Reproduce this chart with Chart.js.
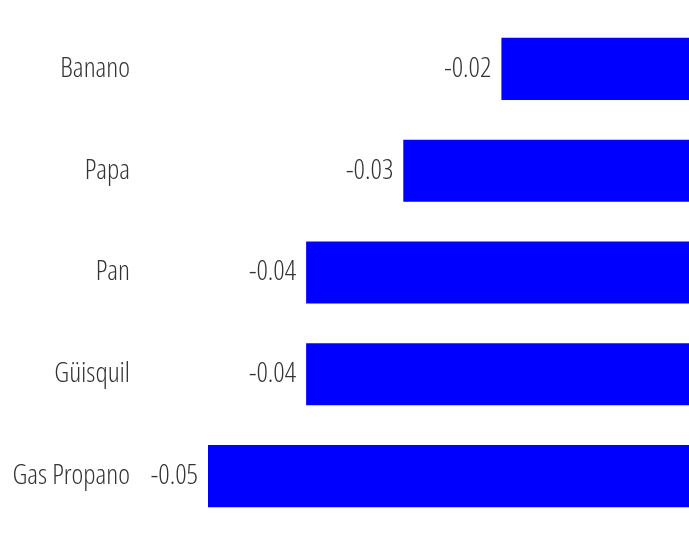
<!DOCTYPE html>
<html>
<head>
<meta charset="utf-8">
<script src="https://cdn.jsdelivr.net/npm/chart.js@4"></script>
<style>
  html, body { margin: 0; padding: 0; background: #fff; overflow: hidden; }
</style>
</head>
<body>
<canvas id="c" width="689" height="533"></canvas>
<script>
// data
const categories = ['Banano', 'Papa', 'Pan', 'Güisquil', 'Gas Propano'];
const values = [-0.0195, -0.0297, -0.0398, -0.0398, -0.05];

const FONT_FAMILY = "'Open Sans', sans-serif";
const FONT_WEIGHT = '300 condensed';  // condensed light cut of Open Sans
const FONT_SIZE = 28;
const TEXT_COLOR = '#333333';

// value labels, right-aligned just left of each bar end
const valueLabels = {
  id: 'valueLabels',
  afterDatasetsDraw(chart) {
    const ctx = chart.ctx;
    const meta = chart.getDatasetMeta(0);
    ctx.save();
    ctx.font = FONT_WEIGHT + ' ' + FONT_SIZE + 'px ' + FONT_FAMILY;
    ctx.fillStyle = TEXT_COLOR;
    ctx.textAlign = 'right';
    ctx.textBaseline = 'middle';
    meta.data.forEach(function(bar, i) {
      ctx.fillText(values[i].toFixed(2), bar.x - 10, bar.y);
    });
    ctx.restore();
  }
};

new Chart(document.getElementById('c'), {
  type: 'bar',
  data: {
    labels: categories,
    datasets: [{
      data: values,
      backgroundColor: '#0000ff',
      borderWidth: 0,
      barPercentage: 0.61,
      categoryPercentage: 1.0
    }]
  },
  options: {
    indexAxis: 'y',
    responsive: false,
    animation: false,
    layout: { padding: { top: 18, bottom: 6, left: 0, right: 0 } },
    scales: {
      x: {
        display: false,
        min: -0.05,
        max: 0
      },
      y: {
        grid: { display: false, drawTicks: false },
        border: { display: false },
        ticks: {
          color: TEXT_COLOR,
          padding: 78,
          font: { family: FONT_FAMILY, size: FONT_SIZE, weight: FONT_WEIGHT }
        },
        afterFit(scale) {
          // fixed gutter; the big tick padding should not eat vertical space
          scale.width = 208;
          scale.paddingTop = 0;
          scale.paddingBottom = 0;
        }
      }
    },
    plugins: {
      legend: { display: false },
      tooltip: { enabled: false }
    }
  },
  plugins: [valueLabels]
});
</script>
</body>
</html>
